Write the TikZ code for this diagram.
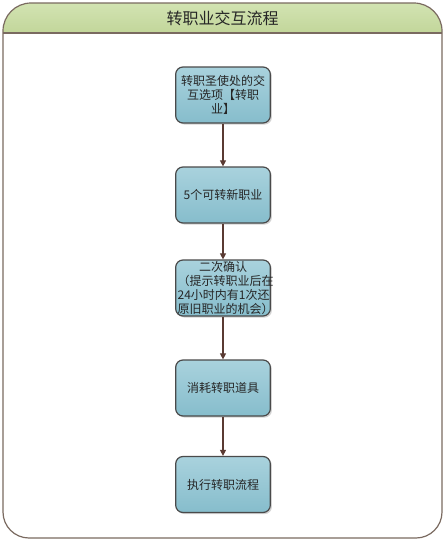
\documentclass[tikz,border=0pt]{standalone}
\usepackage{fontspec}
\setmainfont{Noto Sans CJK SC}
\usetikzlibrary{arrows.meta,shadows}
\definecolor{frameline}{HTML}{7A6A60}
\definecolor{headtop}{HTML}{D2E3B2}
\definecolor{headbot}{HTML}{C2D69A}
\definecolor{boxtop}{HTML}{A9D2DD}
\definecolor{boxbot}{HTML}{86BDCC}
\definecolor{boxline}{HTML}{4A4A4A}
\definecolor{arrowcol}{HTML}{5A3A32}
\tikzset{
  stepbox/.style={draw=boxline, line width=0.9pt, rounded corners=5.5pt,
    top color=boxtop, bottom color=boxbot,
    minimum width=71pt, minimum height=42pt, text width=68pt,
    align=center, inner sep=1pt, font=\fontsize{9}{10.5}\selectfont,
    text=black!85,
    drop shadow={shadow xshift=1.2pt, shadow yshift=-1.2pt, opacity=0.35}},
  flow/.style={draw=arrowcol, line width=0.8pt, -{Triangle[length=4.5pt,width=4.5pt]}}
}
\begin{document}
\begin{tikzpicture}[x=0.75pt,y=-0.75pt]
\useasboundingbox (0,0) rectangle (446,543);
% header band
\path[top color=headtop, bottom color=headbot]
  (3,33) -- (3,31) arc[start angle=180,end angle=270,radius=28] -- (414,3)
  arc[start angle=270,end angle=360,radius=28] -- (442,33) -- cycle;
% outer frame
\draw[frameline, line width=0.9pt]
  (3,31) arc[start angle=180,end angle=270,radius=28] -- (414,3)
  arc[start angle=270,end angle=360,radius=28] -- (442,512)
  arc[start angle=0,end angle=90,radius=26] -- (29,538)
  arc[start angle=90,end angle=180,radius=26] -- cycle;
\draw[frameline, line width=1.4pt] (3,33) -- (442,33);
\node[font=\fontsize{12}{14}\selectfont, text=black!85] (title) at (222.5,18) {转职业交互流程};
% boxes
\node[stepbox] (b1) at (223,95) {转职圣使处的交\\互选项【转职\\业】};
\node[stepbox] (b2) at (223,195) {5个可转新职业};
\node[stepbox] (b3) at (223,288) {二次确认\\（提示转职业后在\\24小时内有1次还\\原旧职业的机会）};
\node[stepbox] (b4) at (223,388) {消耗转职道具};
\node[stepbox] (b5) at (223,484.5) {执行转职流程};
\draw[flow] (b1) -- (b2);
\draw[flow] (b2) -- (b3);
\draw[flow] (b3) -- (b4);
\draw[flow] (b4) -- (b5);
\end{tikzpicture}
\end{document}
